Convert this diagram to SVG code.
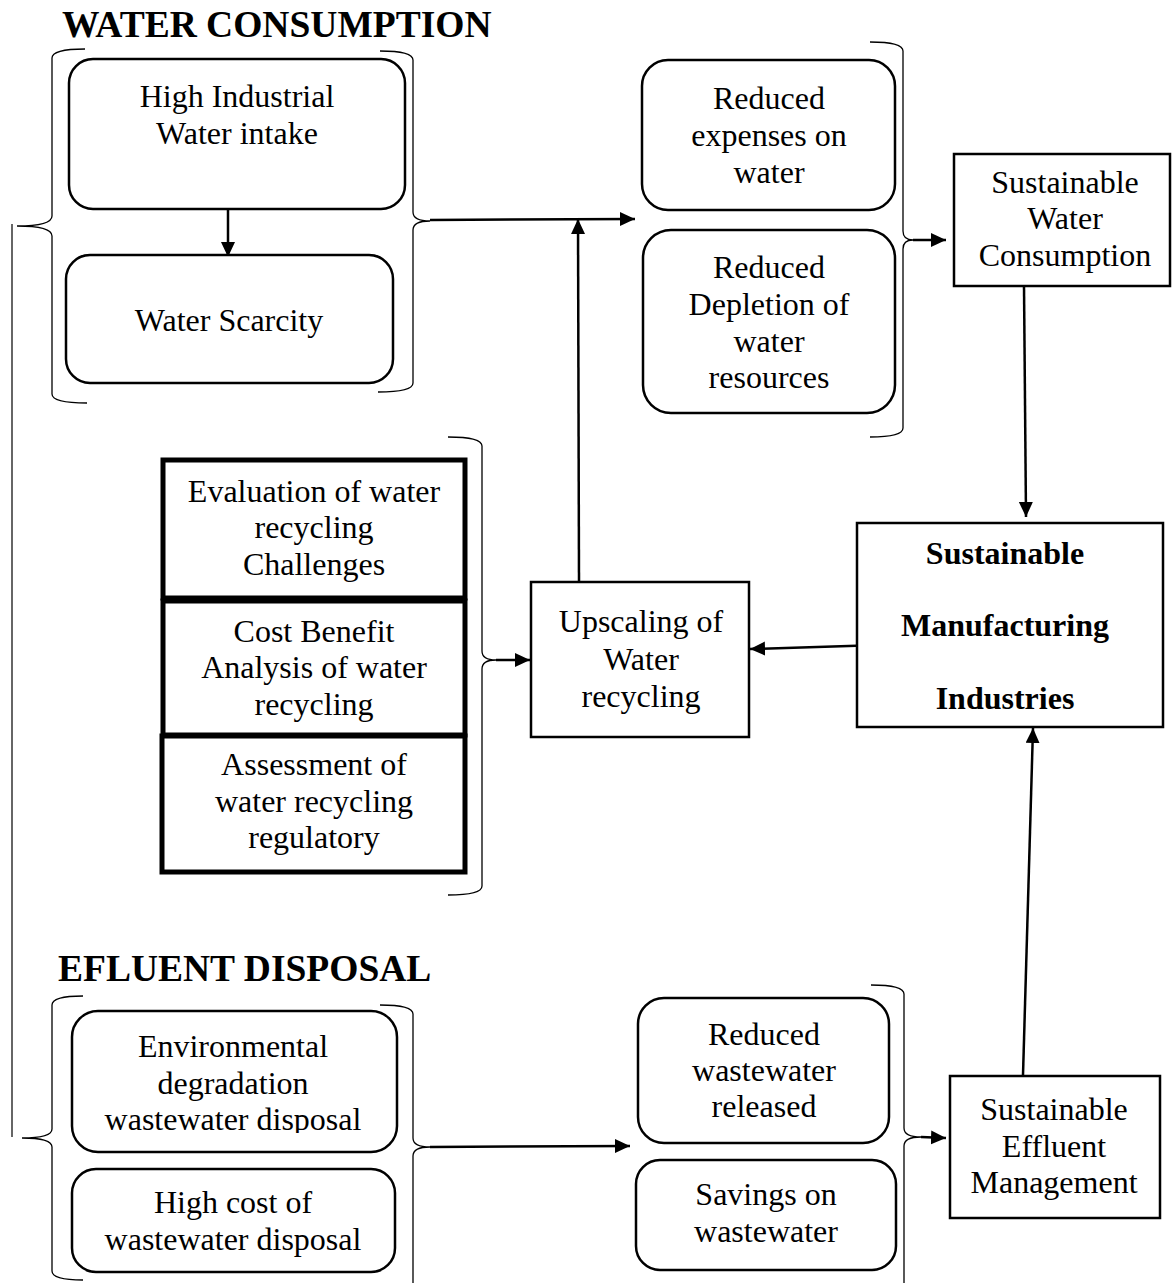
<svg xmlns="http://www.w3.org/2000/svg" width="1173" height="1283" viewBox="0 0 1173 1283">
<style>
  .bg { fill: #ffffff; }
  .rbox { fill: #ffffff; stroke: #000; stroke-width: 2.5; }
  .box { fill: #ffffff; stroke: #000; stroke-width: 2.5; }
  .thick { fill: #ffffff; stroke: #000; stroke-width: 5; }
  .brace { fill: none; stroke: #000; stroke-width: 1.3; }
  .vline { fill: none; stroke: #333; stroke-width: 1.5; }
  .conn { fill: none; stroke: #000; stroke-width: 2.5; marker-end: url(#arrow); }
  text { font-family: "Liberation Serif", "Times New Roman", serif; font-size: 32px; text-anchor: middle; fill: #000; }
  .title { font-size: 37.5px; font-weight: bold; text-anchor: start; }
  .bold { font-weight: bold; }
</style>
<defs>
  <marker id="arrow" markerUnits="userSpaceOnUse" markerWidth="16" markerHeight="16" refX="15" refY="7" orient="auto">
    <path d="M0,0 L15,7 L0,14 Z" fill="#000"/>
  </marker>
  <clipPath id="clipEnv"><rect x="60" y="1000" width="350" height="133"/></clipPath>
</defs>
<rect class="bg" x="0" y="0" width="1173" height="1283"/>

<text class="title" x="62" y="37">WATER CONSUMPTION</text>
<text class="title" x="58" y="981">EFLUENT DISPOSAL</text>

<g id="braces">
  <path class="vline" d="M12,224 L12,1137"/>
  <path class="brace" d="M85,49 Q52,49 52,58 L52,216 Q52,226 17,226 Q52,226 52,236 L52,394 Q52,403 87,403"/>
  <path class="brace" d="M380,51 Q413,51 413,60 L413,212 Q413,221 430,221 Q413,221 413,230 L413,383 Q413,392 378,392"/>
  <path class="brace" d="M870,42 Q903,42 903,51 L903,231 Q903,240 913,240 Q903,240 903,249 L903,428 Q903,437 870,437"/>
  <path class="brace" d="M448,437 Q482,437 482,446 L482,651 Q482,660 496,660 Q482,660 482,669 L482,886 Q482,895 448,895"/>
  <path class="brace" d="M83,996 Q52,996 52,1005 L52,1129 Q52,1138 22,1138 Q52,1138 52,1147 L52,1271 Q52,1280 83,1280"/>
  <path class="brace" d="M380,1005 Q413,1005 413,1014 L413,1138 Q413,1147 430,1147 Q413,1147 413,1156 L413,1290"/>
  <path class="brace" d="M871,985 Q904,985 904,994 L904,1128 Q904,1137 921,1137 Q904,1137 904,1146 L904,1290"/>
</g>

<g id="connectors">
  <path class="conn" d="M228,209 L228,257"/>
  <path class="conn" d="M430,220 L635,219"/>
  <path class="conn" d="M579,582 L578,219"/>
  <path class="conn" d="M913,240 L946,240"/>
  <path class="conn" d="M1024,286 L1026,517"/>
  <path class="conn" d="M880,645 L750,649"/>
  <path class="conn" d="M496,660 L530,660"/>
  <path class="conn" d="M430,1147 L630,1146"/>
  <path class="conn" d="M921,1137 L946,1138"/>
  <path class="conn" d="M1023,1075 L1033,728"/>
</g>

<g id="high-industrial">
  <rect class="rbox" x="69" y="59" width="336" height="150" rx="24"/>
  <text x="237" y="107">High Industrial</text>
  <text x="237" y="144">Water intake</text>
</g>
<g id="water-scarcity">
  <rect class="rbox" x="66" y="255" width="327" height="128" rx="24"/>
  <text x="229" y="331">Water Scarcity</text>
</g>
<g id="reduced-expenses">
  <rect class="rbox" x="642" y="60" width="253" height="150" rx="26"/>
  <text x="769" y="109">Reduced</text>
  <text x="769" y="146">expenses on</text>
  <text x="769" y="183">water</text>
</g>
<g id="reduced-depletion">
  <rect class="rbox" x="643" y="230" width="252" height="183" rx="28"/>
  <text x="769" y="278">Reduced</text>
  <text x="769" y="315">Depletion of</text>
  <text x="769" y="352">water</text>
  <text x="769" y="388">resources</text>
</g>
<g id="sustainable-water-consumption">
  <rect class="box" x="954" y="154" width="216" height="132"/>
  <text x="1065" y="193">Sustainable</text>
  <text x="1065" y="229">Water</text>
  <text x="1065" y="266">Consumption</text>
</g>
<g id="sustainable-manufacturing">
  <rect class="box" x="857" y="523" width="306" height="204"/>
  <text class="bold" x="1005" y="564">Sustainable</text>
  <text class="bold" x="1005" y="636">Manufacturing</text>
  <text class="bold" x="1005" y="709">Industries</text>
</g>
<g id="upscaling">
  <rect class="box" x="531" y="582" width="218" height="155"/>
  <text x="641" y="632">Upscaling of</text>
  <text x="641" y="670">Water</text>
  <text x="641" y="707">recycling</text>
</g>
<g id="evaluation">
  <rect class="thick" x="163" y="460" width="302" height="138"/>
  <text x="314" y="502">Evaluation of water</text>
  <text x="314" y="538">recycling</text>
  <text x="314" y="575">Challenges</text>
</g>
<g id="cost-benefit">
  <rect class="thick" x="163" y="601" width="302" height="134"/>
  <text x="314" y="642">Cost Benefit</text>
  <text x="314" y="678">Analysis of water</text>
  <text x="314" y="715">recycling</text>
</g>
<g id="assessment">
  <rect class="thick" x="162" y="736" width="303" height="136"/>
  <text x="314" y="775">Assessment of</text>
  <text x="314" y="812">water recycling</text>
  <text x="314" y="848">regulatory</text>
</g>
<g id="environmental-degradation">
  <rect class="rbox" x="72" y="1011" width="325" height="141" rx="26"/>
  <text x="233" y="1057">Environmental</text>
  <text x="233" y="1094">degradation</text>
  <text x="233" y="1130" clip-path="url(#clipEnv)">wastewater disposal</text>
</g>
<g id="high-cost">
  <rect class="rbox" x="72" y="1169" width="323" height="103" rx="24"/>
  <text x="233" y="1213">High cost of</text>
  <text x="233" y="1250">wastewater disposal</text>
</g>
<g id="reduced-wastewater">
  <rect class="rbox" x="638" y="998" width="251" height="145" rx="26"/>
  <text x="764" y="1045">Reduced</text>
  <text x="764" y="1081">wastewater</text>
  <text x="764" y="1117">released</text>
</g>
<g id="savings">
  <rect class="rbox" x="636" y="1160" width="260" height="110" rx="24"/>
  <text x="766" y="1205">Savings on</text>
  <text x="766" y="1242">wastewater</text>
</g>
<g id="sustainable-effluent">
  <rect class="box" x="950" y="1076" width="210" height="142"/>
  <text x="1054" y="1120">Sustainable</text>
  <text x="1054" y="1157">Effluent</text>
  <text x="1054" y="1193">Management</text>
</g>
</svg>
